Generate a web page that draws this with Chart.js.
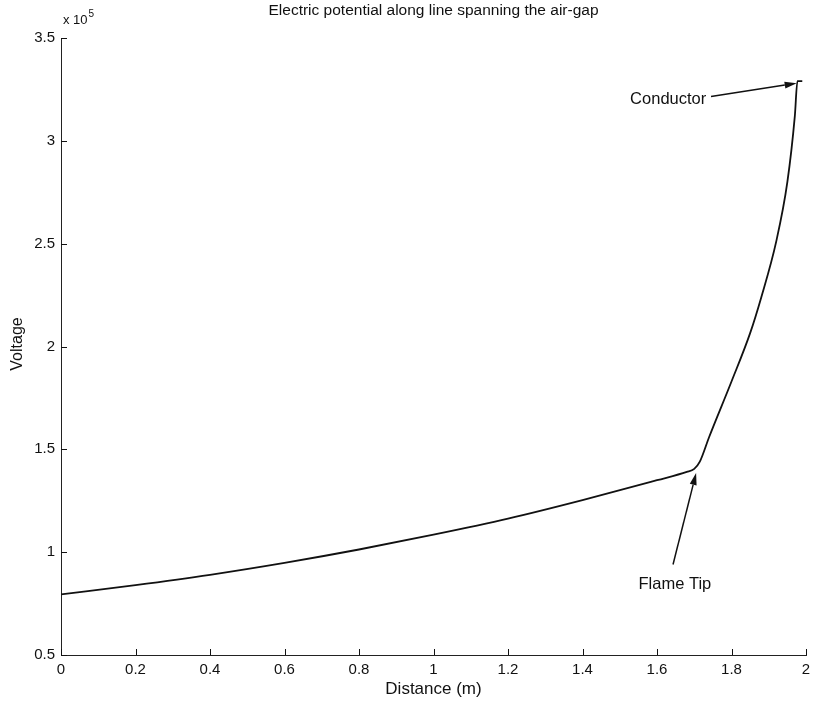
<!DOCTYPE html>
<html><head><meta charset="utf-8">
<script src="https://cdn.jsdelivr.net/npm/chart.js@4.4.1/dist/chart.umd.min.js"></script>
<style>html,body{margin:0;padding:0;background:#fff}canvas{display:block}</style>
</head><body>
<canvas id="c" width="817" height="702"></canvas>
<script>
// Distance along the line (m)
const distance = [0, 0.2, 0.4, 0.6, 0.8, 1.0, 1.2, 1.4, 1.6, 1.68, 1.70, 1.715, 1.74, 1.8, 1.85, 1.88, 1.92, 1.95, 1.97, 1.977, 1.99];
// Voltage (x 10^5 V)
const voltage  = [0.795, 0.840, 0.890, 0.948, 1.013, 1.085, 1.163, 1.253, 1.350, 1.39, 1.405, 1.44, 1.56, 1.83, 2.065, 2.24, 2.51, 2.80, 3.12, 3.29, 3.29];
const xTicks = [0, 0.2, 0.4, 0.6, 0.8, 1, 1.2, 1.4, 1.6, 1.8, 2];
const yTicks = [0.5, 1, 1.5, 2, 2.5, 3, 3.5];
const chartTitle = "Electric potential along line spanning the air-gap";
const xTitle = "Distance (m)";
const yTitle = "Voltage";
const exponentBase = "x 10";
const exponentPower = "5";
const annotationTexts = ["Conductor", "Flame Tip"];
const annotationTextAt = [[1.63, 3.2], [1.648, 0.845]];
const annotationFrom = [[1.745, 3.215], [1.643, 0.94]];
const annotationTo = [[1.975, 3.28], [1.705, 1.385]];

const FONT = "'Liberation Sans', Arial, Helvetica, sans-serif";
const INK = '#111';

function fmt(v){ return String(+(+v).toFixed(1)); }

const overlay = {
  id: 'overlay',
  afterDraw(chart){
    const ctx = chart.ctx, xs = chart.scales.x, ys = chart.scales.y, a = chart.chartArea;
    ctx.save();
    // inward ticks
    ctx.strokeStyle = INK; ctx.lineWidth = 1;
    xTicks.forEach(v => {
      const px = Math.round(xs.getPixelForValue(v)) + 0.5;
      ctx.beginPath(); ctx.moveTo(px, a.bottom); ctx.lineTo(px, a.bottom - 6); ctx.stroke();
    });
    yTicks.forEach(v => {
      const py = Math.round(ys.getPixelForValue(v)) + 0.5;
      ctx.beginPath(); ctx.moveTo(a.left, py); ctx.lineTo(a.left + 6, py); ctx.stroke();
    });
    ctx.fillStyle = INK;
    // title
    ctx.font = '15.5px ' + FONT; ctx.textAlign = 'center'; ctx.textBaseline = 'middle';
    ctx.fillText(chartTitle, (a.left + a.right) / 2, 11);
    // x title
    ctx.font = '17px ' + FONT;
    ctx.fillText(xTitle, (a.left + a.right) / 2, 689);
    // y title
    ctx.font = '16px ' + FONT;
    ctx.save(); ctx.translate(18, 344); ctx.rotate(-Math.PI / 2);
    ctx.fillText(yTitle, 0, 0); ctx.restore();
    // exponent
    ctx.textAlign = 'left'; ctx.textBaseline = 'alphabetic';
    ctx.font = '13px ' + FONT; ctx.fillText(exponentBase, 63, 24);
    const w = ctx.measureText(exponentBase).width;
    ctx.font = '10px ' + FONT; ctx.fillText(exponentPower, 63 + w + 1, 17);
    // annotations
    for (let i = 0; i < annotationTexts.length; i++){
      const tx = xs.getPixelForValue(annotationTextAt[i][0]), ty = ys.getPixelForValue(annotationTextAt[i][1]);
      ctx.font = '16.5px ' + FONT; ctx.textAlign = 'center'; ctx.textBaseline = 'middle';
      ctx.fillText(annotationTexts[i], tx, ty);
      const x1 = xs.getPixelForValue(annotationFrom[i][0]), y1 = ys.getPixelForValue(annotationFrom[i][1]);
      const x2 = xs.getPixelForValue(annotationTo[i][0]), y2 = ys.getPixelForValue(annotationTo[i][1]);
      const ang = Math.atan2(y2 - y1, x2 - x1), L = 12, W = 3.5;
      ctx.lineWidth = 1.5;
      ctx.beginPath(); ctx.moveTo(x1, y1); ctx.lineTo(x2 - L * Math.cos(ang), y2 - L * Math.sin(ang)); ctx.stroke();
      ctx.beginPath();
      ctx.moveTo(x2, y2);
      ctx.lineTo(x2 - L * Math.cos(ang) + W * Math.sin(ang), y2 - L * Math.sin(ang) - W * Math.cos(ang));
      ctx.lineTo(x2 - L * Math.cos(ang) - W * Math.sin(ang), y2 - L * Math.sin(ang) + W * Math.cos(ang));
      ctx.closePath(); ctx.fill();
    }
    ctx.restore();
  }
};

new Chart(document.getElementById('c'), {
  type: 'line',
  data: {
    datasets: [{
      data: distance.map((d, i) => ({x: d, y: voltage[i]})),
      borderColor: INK, borderWidth: 1.8, pointRadius: 0, fill: false,
      cubicInterpolationMode: 'monotone'
    }]
  },
  options: {
    responsive: false, animation: false,
    layout: {padding: {top: 38, right: 11, left: 0, bottom: 0}},
    plugins: {legend: {display: false}, tooltip: {enabled: false}, title: {display: false}},
    scales: {
      x: {
        type: 'linear', min: 0, max: 2,
        afterBuildTicks: s => { s.ticks = xTicks.map(v => ({value: v})); },
        afterFit: s => { s.height = 47; },
        ticks: {callback: v => fmt(v), color: INK, font: {family: FONT, size: 15}, padding: 6, maxRotation: 0, autoSkip: false},
        grid: {drawOnChartArea: false, drawTicks: false},
        border: {display: true, color: '#222', width: 1}
      },
      y: {
        type: 'linear', min: 0.5, max: 3.5,
        afterBuildTicks: s => { s.ticks = yTicks.map(v => ({value: v})); },
        afterFit: s => { s.width = 61; },
        ticks: {callback: v => fmt(v), color: INK, font: {family: FONT, size: 15}, padding: 6, autoSkip: false},
        grid: {drawOnChartArea: false, drawTicks: false},
        border: {display: true, color: '#222', width: 1}
      }
    }
  },
  plugins: [overlay]
});
</script>
</body></html>
